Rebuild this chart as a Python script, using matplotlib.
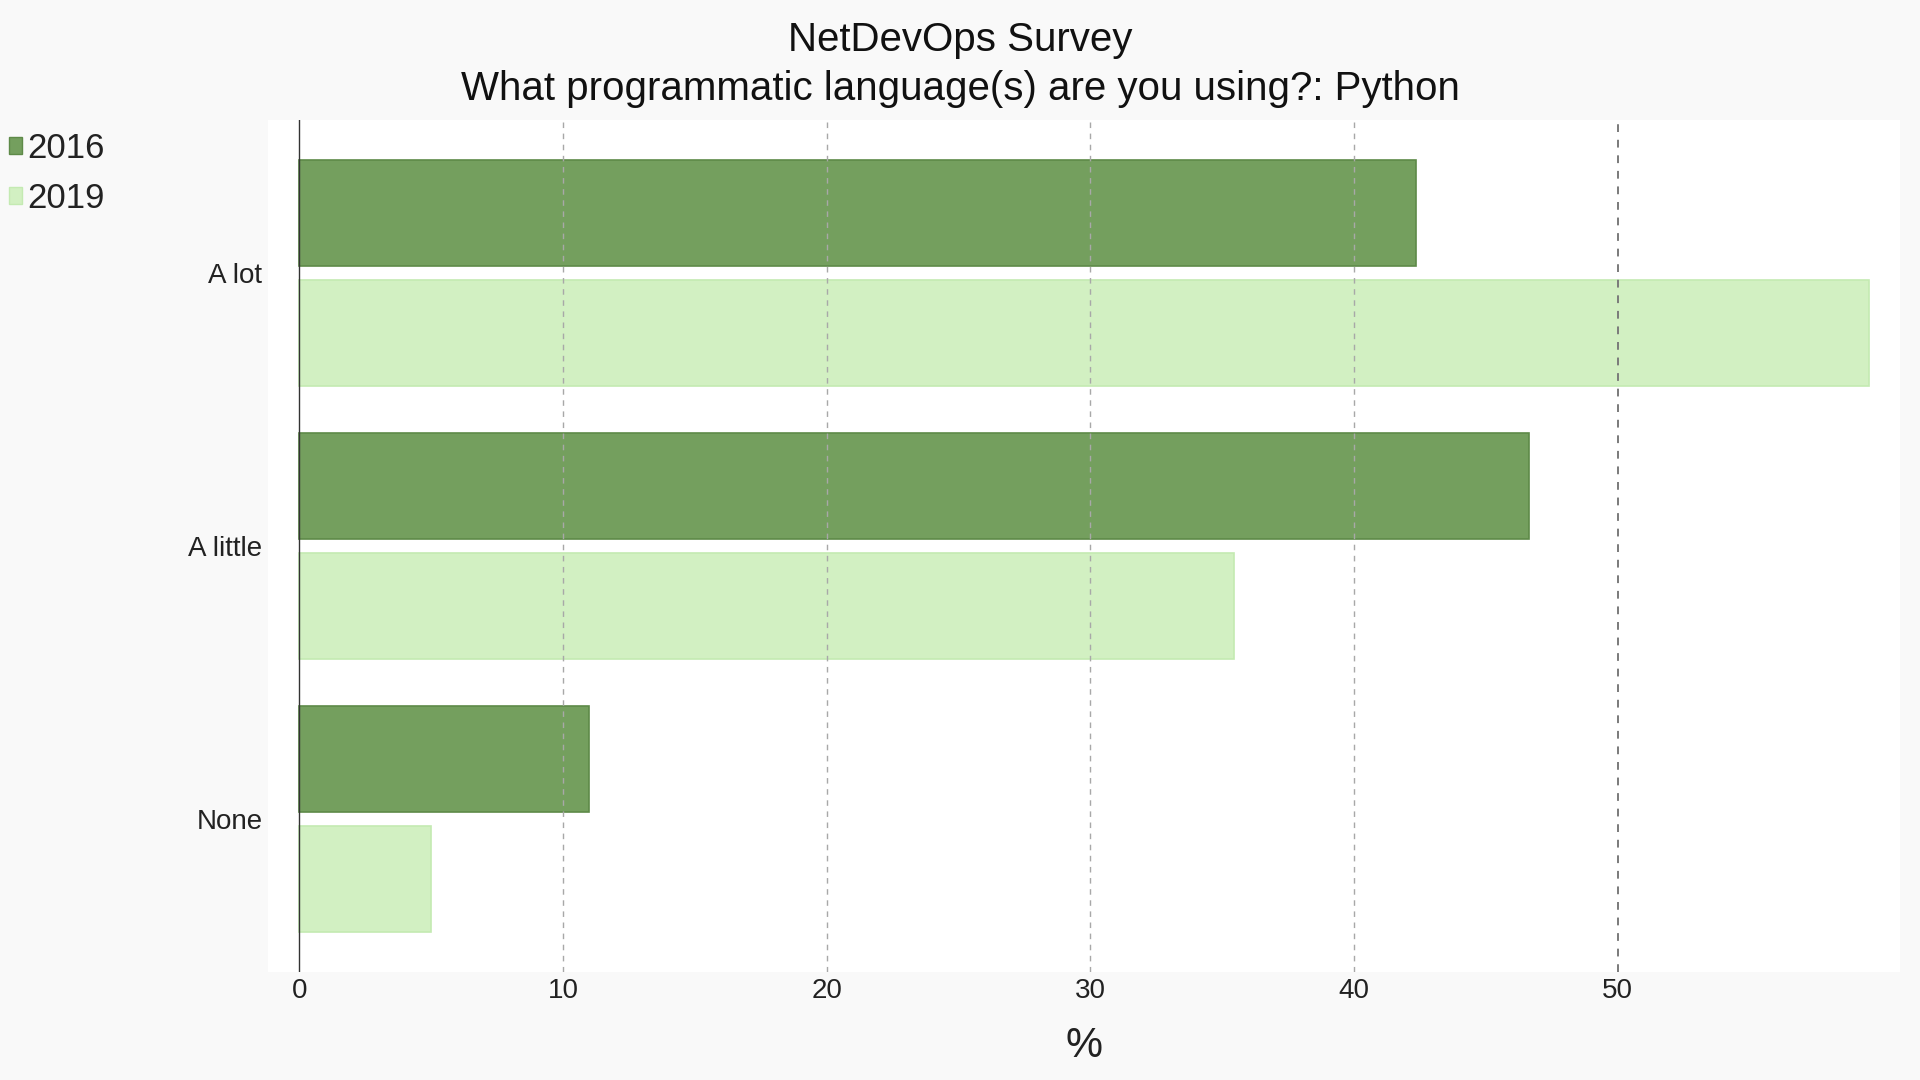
import numpy as np
import matplotlib.pyplot as plt
from matplotlib.patches import Patch

plt.rcParams['font.family'] = ['Liberation Sans', 'DejaVu Sans']

# data
categories = ['A lot', 'A little', 'None']
years = ['2016', '2019']
vals_2016 = [42.33, 46.64, 10.99]
vals_2019 = [59.52, 35.46, 4.99]

col_2016 = '#749f5e'
edge_2016 = '#5e8a48'
col_2019 = '#d2f0c2'
edge_2019 = '#c4eab2'

fig = plt.figure(figsize=[19.2, 10.8], dpi=100, facecolor='#f9f9f9')
ax = fig.add_axes([268/1920, 1-972/1080, (1900-268)/1920, (972-120)/1080])
ax.set_facecolor('white')

y = np.arange(len(categories))
h = 0.389
off = (h + 0.051) / 2
ax.barh(y - off, vals_2016, height=h, color=col_2016, edgecolor=edge_2016, linewidth=1.2, zorder=2)
ax.barh(y + off, vals_2019, height=h, color=col_2019, edgecolor=edge_2019, linewidth=1.2, zorder=2)

ax.set_xlim(-1.19, 60.7)
ax.set_ylim(2.56, -0.56)
ax.set_yticks(y)
ax.set_yticklabels(categories, fontsize=20, color='#222222')
ax.set_xticks([0, 10, 20, 30, 40, 50])
ax.set_xticklabels(['0', '10', '20', '30', '40', '50'], fontsize=20, color='#222222')
ax.tick_params(length=0, pad=4)

for s in ax.spines.values():
    s.set_visible(False)
ax.axvline(0, color='#333333', linewidth=1.0, zorder=3)
for g in [10, 20, 30, 40]:
    ax.axvline(g, color='#a8a8a8', linewidth=1.0, linestyle=(0, (4, 4)), zorder=3)
ax.axvline(50, color='#7a7a7a', linewidth=1.4, linestyle=(0, (4, 4)), zorder=3)

ax.set_xlabel('%', fontsize=30, labelpad=16, color='#222222')

fig.text(0.5, 1-40/1080, 'NetDevOps Survey', ha='center', va='center', fontsize=29, color='#111111')
fig.text(0.5, 1-89/1080, 'What programmatic language(s) are you using?: Python',
         ha='center', va='center', fontsize=29, color='#111111')

handles = [Patch(facecolor=col_2016, edgecolor=edge_2016), Patch(facecolor=col_2019, edgecolor=edge_2019)]
leg = fig.legend(handles, years, loc='upper left', bbox_to_anchor=(9/1920, 1-132/1080),
                 frameon=False, fontsize=25, handlelength=0.38, handleheight=0.38,
                 handletextpad=0.15, labelspacing=0.48, borderaxespad=0, borderpad=0)
for t in leg.get_texts():
    t.set_color('#222222')

fig.savefig('out.png', dpi=100, facecolor=fig.get_facecolor())
